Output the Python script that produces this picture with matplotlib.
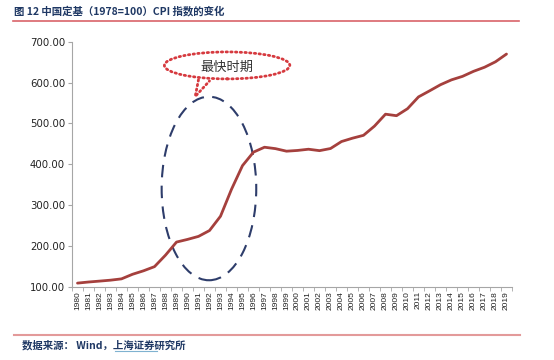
import matplotlib.pyplot as plt
from matplotlib.patches import Ellipse
from matplotlib.lines import Line2D

plt.rcParams['font.family'] = ['DejaVu Sans', 'Noto Sans CJK SC']

years = [str(y) for y in range(1980, 2020)]
cpi = [109.5, 112.2, 114.4, 116.7, 119.9, 131.1, 139.6, 149.8, 177.9, 209.9,
       216.4, 223.8, 238.1, 273.1, 339.0, 396.9, 429.9, 441.9, 438.4, 432.2,
       434.0, 437.0, 433.5, 438.7, 455.8, 464.0, 471.0, 493.6, 522.7, 519.0,
       536.1, 565.0, 579.7, 594.8, 606.7, 615.2, 627.5, 637.5, 650.9, 669.8]
yticks = [100, 200, 300, 400, 500, 600, 700]

title = "图 12 中国定基（1978=100）CPI 指数的变化"
source = "数据来源： Wind，上海证券研究所"
callout = "最快时期"

W, H = 554, 360
fig = plt.figure(figsize=(W / 100, H / 100), dpi=100)
ax = fig.add_axes([72 / W, 1 - 287 / H, 440 / W, (287 - 41.7) / H])

x = list(range(len(years)))
ax.plot(x, cpi, color='#A5403D', lw=2, solid_capstyle='round')

ax.set_xlim(-0.5, len(years) - 0.5)
ax.set_ylim(100, 700)
ax.set_yticks(yticks)
ax.set_yticklabels([f"{v:.2f}" for v in yticks], fontsize=7.3, color='#222222')
ax.set_xticks(x)
ax.set_xticklabels(years, rotation=90, fontsize=6, color='#222222',
                   family=['Liberation Sans'])
ax.set_xticks([i - 0.5 for i in range(len(years) + 1)], minor=True)
ax.tick_params(axis='x', which='major', length=0, pad=3)
ax.tick_params(axis='x', which='minor', length=3, color='#A6A6A6')
ax.tick_params(axis='y', length=3, color='#A6A6A6', pad=2)
for s in ['top', 'right']:
    ax.spines[s].set_visible(False)
for s in ['left', 'bottom']:
    ax.spines[s].set_color('#A6A6A6')
    ax.spines[s].set_linewidth(0.8)

# dashed ellipse around the fastest growth period
ax.add_patch(Ellipse((11.95, 341), 8.6, 449, fill=False, ec='#2E3D6B',
                     lw=1.5, ls=(0, (6, 4)), clip_on=False))

# dotted callout bubble
ax.add_patch(Ellipse((13.6, 642), 11.4, 66, fill=False, ec='#D63A3F',
                     lw=2, ls=(0, (0.5, 1.2)), capstyle='round',
                     clip_on=False))
ax.plot([11.0, 10.7, 12.0], [607, 566, 604], color='#D63A3F', lw=2,
        ls=(0, (0.5, 1.2)), dash_capstyle='round', clip_on=False)
ax.text(13.6, 638, callout, ha='center', va='center', fontsize=9.5,
        color='#333333', family=['Noto Sans CJK SC'])

# header and footer
fig.text(14 / W, 1 - 11 / H, title, fontsize=7.5, fontweight='bold',
         color='#1F3864', va='center', family=['Noto Sans CJK SC'])
fig.add_artist(Line2D([13 / W, 519 / W], [1 - 21 / H, 1 - 21 / H],
                      color='#D9646A', lw=1.2))
fig.add_artist(Line2D([14 / W, 520 / W], [1 - 335 / H, 1 - 335 / H],
                      color='#E39A9A', lw=1.5))
fig.text(22 / W, 1 - 345 / H, source, fontsize=7.5, fontweight='bold',
         style='italic', color='#1F3864', va='center',
         family=['Noto Sans CJK SC'])
fig.add_artist(Line2D([115 / W, 157 / W], [1 - 351 / H, 1 - 351 / H],
                      color='#7FB2D0', lw=0.8))

fig.savefig('out.png', dpi=100)
